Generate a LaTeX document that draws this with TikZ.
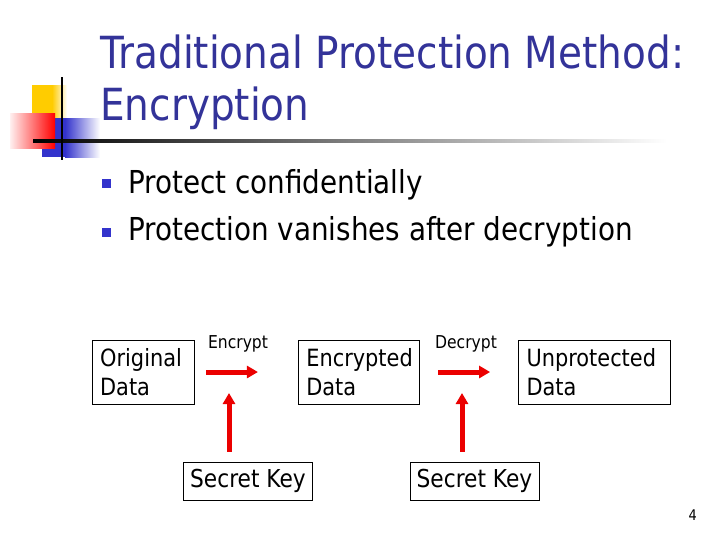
\documentclass[tikz,border=0pt]{standalone}
\usepackage{fontspec}
\setmainfont{DejaVu Sans}[FakeStretch=0.88]
\usetikzlibrary{positioning, arrows.meta, calc}
\definecolor{slideBlue}{RGB}{51, 51, 153}
\definecolor{bulletBlue}{RGB}{51, 51, 204}
\definecolor{logoYellow}{RGB}{255, 204, 0}
\definecolor{arrowRed}{RGB}{235, 0, 0}
\tikzset{
  titleText/.style={
    anchor=base west,
    inner sep=0pt,
    text=slideBlue,
    font=\fontsize{33.2}{38}\selectfont
  },
  bulletText/.style={
    anchor=base west,
    inner sep=0pt,
    font=\fontsize{23.7}{28}\selectfont
  },
  bulletMark/.style={
    fill=bulletBlue
  },
  dataBox/.style={
    draw,
    line width=0.6pt,
    align=left,
    inner xsep=6pt,
    inner ysep=0pt,
    minimum height=48pt,
    text width=#1,
    font=\fontsize{17.8}{21.75}\selectfont
  },
  keyBox/.style={
    draw,
    line width=0.6pt,
    inner xsep=5pt,
    minimum height=28.5pt,
    minimum width=#1,
    font=\fontsize{18.5}{22}\selectfont
  },
  stepLabel/.style={
    anchor=base,
    inner sep=0pt,
    font=\fontsize{13.3}{15}\selectfont
  },
  redArrow/.style={
    draw=arrowRed,
    line width=3.75pt,
    -{Triangle[length=8.25pt, width=9pt]}
  }
}
\begin{document}
\begin{tikzpicture}[x=0.75pt, y=-0.75pt]
  \useasboundingbox (0,0) rectangle (720,540);
  \fill[white] (0,0) rectangle (720,540);
  % logo squares and rule
  \fill[logoYellow] (32,85) rectangle (52,118);
  \shade[left color=logoYellow, right color=white] (52,85) rectangle (67,118);
  \fill[bulletBlue] (42,118) rectangle (65,157);
  \shade[left color=bulletBlue, right color=white] (65,118) rectangle (100,157);
  \shade[left color=red!6, right color=red] (10,113) rectangle (55,148);
  \shade[left color=black, middle color=black!30, right color=white] (33,139.5) rectangle (667,142.5);
  \draw[line width=1.5pt] (62,77) -- (62,160);
  % title
  \node[titleText] (titleA) at (100,68) {Traditional Protection Method:};
  \node[titleText] (titleB) at (100,120) {Encryption};
  % bullets
  \fill[bulletMark] (102,179) rectangle (111,188);
  \fill[bulletMark] (102,228) rectangle (111,237);
  \node[bulletText] (pointA) at (128,193) {Protect confidentially};
  \node[bulletText] (pointB) at (128,240) {Protection vanishes after decryption};
  % data boxes
  \node[dataBox=65pt] (origData) at (143.5,372) {Original\\Data};
  \node[dataBox=79pt] (encData) at (359,372) {Encrypted\\Data};
  \node[dataBox=102pt] (plainData) at (594.5,372) {Unprotected\\Data};
  \node[keyBox=96pt] (keyA) at (248,481) {Secret Key};
  \node[keyBox=95pt] (keyB) at (474.5,481) {Secret Key};
  \node[stepLabel] (encLabel) at (238,348) {Encrypt};
  \node[stepLabel] (decLabel) at (466,348) {Decrypt};
  % arrows
  \coordinate (encTip) at (229,393);
  \coordinate (decTip) at (462,393);
  \draw[redArrow, shorten <=8.25pt, shorten >=30pt] (origData) -- (encData);
  \draw[redArrow, shorten <=13.5pt, shorten >=21pt] (encData) -- (plainData);
  \draw[redArrow, shorten <=7.5pt] (keyA.north -| encTip) -- (encTip);
  \draw[redArrow, shorten <=7.5pt] (keyB.north -| decTip) -- (decTip);
  % page number
  \node[anchor=base east, inner sep=0pt, font=\fontsize{11}{13}\selectfont] (pageNum) at (697,520) {4};
\end{tikzpicture}
\end{document}
